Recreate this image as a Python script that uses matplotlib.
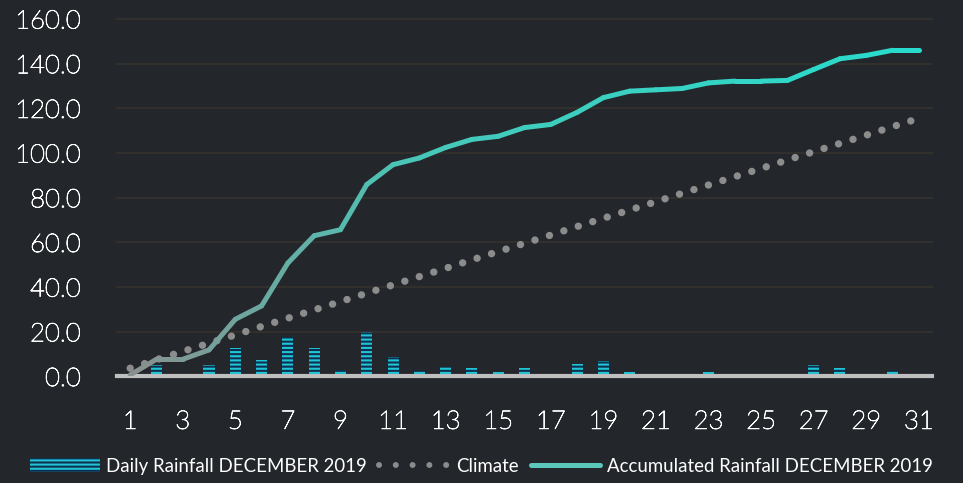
import numpy as np
import matplotlib.pyplot as plt
import matplotlib.patheffects as pe
from matplotlib.collections import LineCollection
from matplotlib.lines import Line2D
from matplotlib.patches import Patch

plt.rcParams['font.family'] = ['Lato', 'DejaVu Sans']
plt.rcParams['hatch.linewidth'] = 1.5

days = list(range(1, 32))
daily_rain = [0, 5.2, 0, 5.0, 12.9, 7.4, 17.8, 12.9, 3.0, 20.1, 8.9, 2.3, 4.3, 3.9, 1.8, 3.9,
              1.3, 5.4, 6.9, 2.0, 0, 0, 2.0, 0, 0, 0, 5.3, 3.9, 0.8, 2.3, 0]
climate = [3.7, 7.5, 11.2, 14.9, 18.6, 22.4, 26.1, 29.8, 33.5, 37.3, 41.0, 44.7, 48.4, 52.2,
           55.9, 59.6, 63.3, 67.1, 70.8, 74.5, 78.2, 82.0, 85.7, 89.4, 93.1, 96.9, 100.6,
           104.3, 108.0, 111.8, 115.5]
accumulated = [0.7, 7.7, 7.7, 11.9, 25.6, 31.6, 50.8, 63.0, 65.7, 85.9, 94.8, 97.8, 102.5,
               106.1, 107.5, 111.4, 112.8, 118.2, 124.8, 127.7, 128.3, 128.9, 131.4, 132.2,
               132.2, 132.5, 137.4, 142.2, 143.7, 146.0, 146.0]
yticks = [0, 20, 40, 60, 80, 100, 120, 140, 160]
xticks = list(range(1, 32, 2))
labels = ['Daily Rainfall DECEMBER 2019', 'Climate', 'Accumulated Rainfall DECEMBER 2019']

BG = '#23272b'
CYAN = '#20c5d5'
NAVY = '#0f2f50'
GREY = '#8c8c8c'
DOTS = (0, (0.01, 2.05))

fig = plt.figure(figsize=(9.63, 4.83), dpi=100, facecolor=BG)
ax = fig.add_axes([0.1215, 0.2205, 0.8463, 0.7402], facecolor=BG)

# grid
for v in yticks[1:]:
    ax.axhline(v, color='#36322e', lw=1.2, zorder=0, clip_on=False)

ax.bar(days, daily_rain, width=0.42, color=NAVY, edgecolor=CYAN, linewidth=0,
       hatch='----', zorder=2)

ax.axhline(0, color='#bfbfbf', lw=3, zorder=3, clip_on=False)

ax.plot(days, climate, color=GREY, lw=5.3, linestyle=DOTS,
        dash_capstyle='round', zorder=4)

# accumulated line with gradient grey -> turquoise
x = np.array(days, dtype=float)
y = np.array(accumulated)
segs = [[(x[i], y[i]), (x[i + 1], y[i + 1])] for i in range(len(x) - 1)]
c0 = np.array([138, 143, 142]) / 255
c1 = np.array([70, 200, 185]) / 255
c2 = np.array([40, 220, 205]) / 255
cols = []
for i in range(len(segs)):
    t = (x[i] + 0.5 - 1) / 30
    if t < 0.37:
        c = c0 + (c1 - c0) * (t / 0.37)
    else:
        c = c1 + (c2 - c1) * ((t - 0.37) / 0.63)
    cols.append(c)
lc = LineCollection(segs, colors=cols, linewidths=3.6, capstyle='round',
                    joinstyle='round', zorder=5)
ax.add_collection(lc)

ax.set_xlim(0.5, 31.5)
ax.set_ylim(0, 160)
ax.set_xticks(xticks)
ax.set_yticks(yticks)
ax.set_yticklabels([f'{v:.1f}' for v in yticks])
ax.tick_params(length=0, colors='white', labelsize=18.5)
ax.tick_params(axis='y', pad=26)
ax.tick_params(axis='x', pad=24)
for lab in ax.get_xticklabels() + ax.get_yticklabels():
    lab.set_fontweight('light')
    lab.set_path_effects([pe.withStroke(linewidth=0.6, foreground='white')])
for s in ax.spines.values():
    s.set_visible(False)

handles = [
    Patch(facecolor=NAVY, edgecolor=CYAN, linewidth=0, hatch='----'),
    Line2D([], [], color=GREY, lw=4.3, linestyle=(0, (0.01, 2.8)), dash_capstyle='round'),
    Line2D([], [], color='#5cc8bb', lw=3.6, solid_capstyle='round'),
]
fig.legend(handles, labels, loc='center left', bbox_to_anchor=(30 / 963, 0.035),
           ncol=3, frameon=False, fontsize=13.4, labelcolor='white',
           handlelength=3.75, handleheight=0.78, handletextpad=0.36,
           columnspacing=0.65, borderpad=0, borderaxespad=0)

fig.savefig('out.png', dpi=100, facecolor=BG)
